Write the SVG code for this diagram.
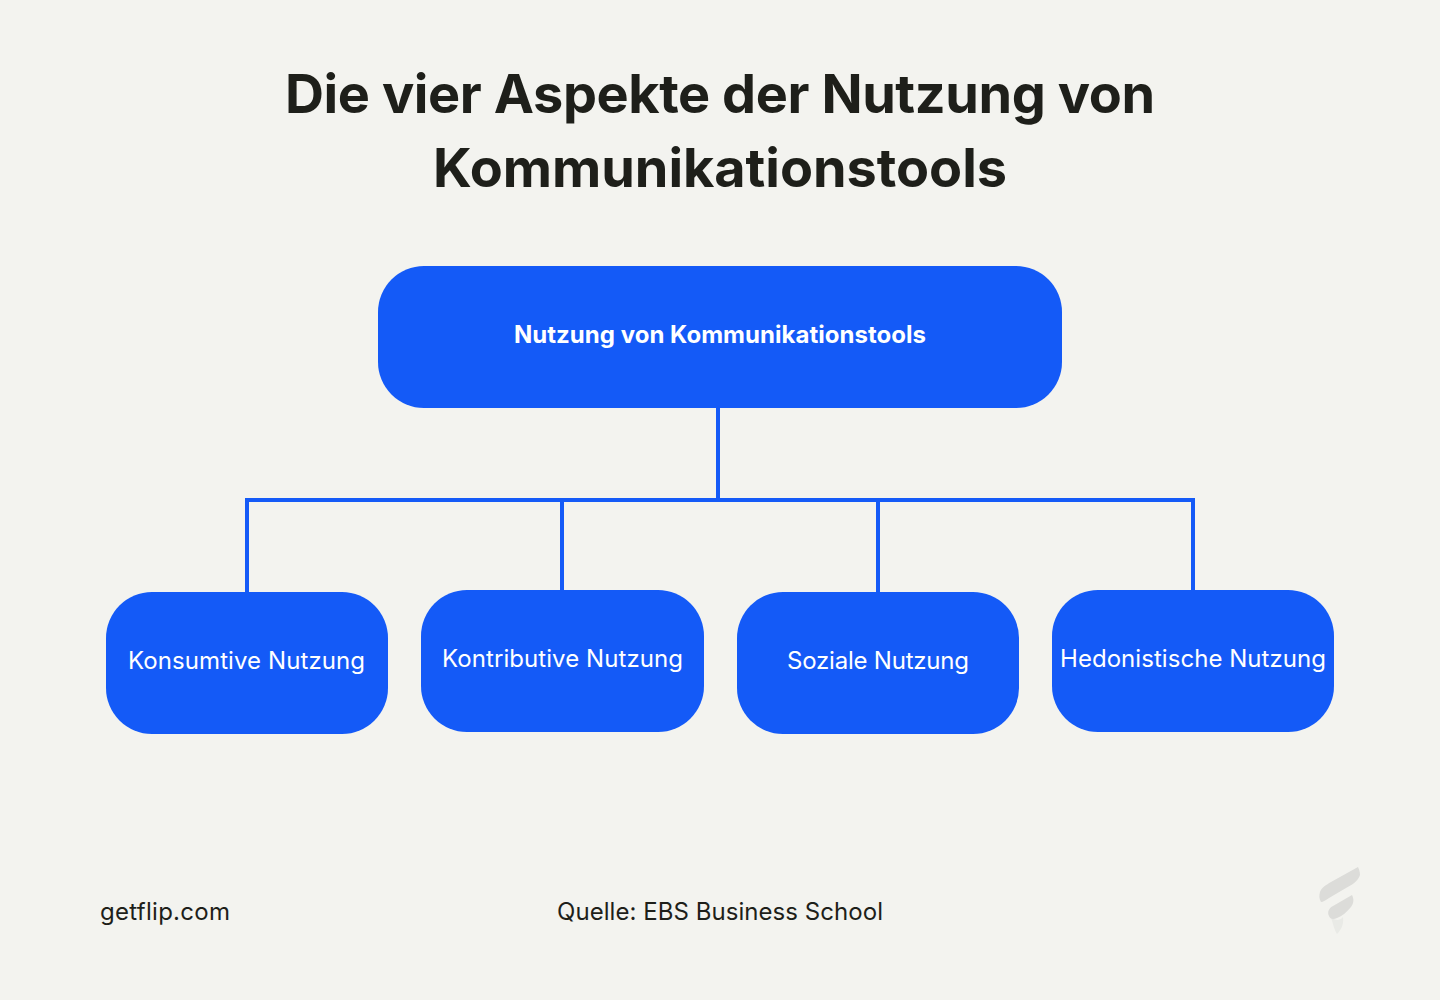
<svg xmlns="http://www.w3.org/2000/svg" width="1440" height="1000" viewBox="0 0 1440 1000">
<style>
text{font-family:"Inter","Liberation Sans",sans-serif;text-anchor:middle}
.t{font-size:54px;font-weight:700;fill:#1e1f1a}
.n{fill:#145af7}
.l{font-size:24px;fill:#fff}
.f{font-size:24px;fill:#1e1f1a}
.c{fill:none;stroke:#145af7;stroke-width:4}
</style>
<rect width="1440" height="1000" fill="#f3f3ef"/>
<text class="t" x="720" y="113" textLength="870">Die vier Aspekte der Nutzung von</text>
<text class="t" x="720" y="187" textLength="574">Kommunikationstools</text>
<g id="connectors">
<path class="c" d="M718 408V500M247 592V500H1193V590M562 500V590M878 500V592"/>
</g>
<g id="root"><rect class="n" x="378" y="266" width="684" height="142" rx="46"/><text class="l" x="720" y="343" font-weight="700" textLength="412">Nutzung von Kommunikationstools</text></g>
<g id="n1"><rect class="n" x="106" y="592" width="282" height="142" rx="46"/><text class="l" x="246.500" y="669" textLength="237">Konsumtive Nutzung</text></g>
<g id="n2"><rect class="n" x="421" y="590" width="283" height="142" rx="46"/><text class="l" x="562.500" y="667" textLength="241">Kontributive Nutzung</text></g>
<g id="n3"><rect class="n" x="737" y="592" width="282" height="142" rx="46"/><text class="l" x="878" y="669" textLength="182">Soziale Nutzung</text></g>
<g id="n4"><rect class="n" x="1052" y="590" width="282" height="142" rx="46"/><text class="l" x="1193" y="667" textLength="266">Hedonistische Nutzung</text></g>
<text class="f" x="165" y="920" textLength="130">getflip.com</text>
<text class="f" x="720" y="920" textLength="326">Quelle: EBS Business School</text>
<g id="logo">
<path fill="#e9eae6" d="M1331 917C1333 925 1335 931 1337 934C1341 930 1344 925 1343 917C1340 921 1335 921 1331 917Z"/>
<path fill="#dcdcd9" d="M1358 867C1359 869 1360 872 1360 875C1358 881 1352 885 1346 888L1329 898C1326 900 1323 902 1321 902C1319 899 1319 895 1320 892C1322 887 1326 885 1331 882Z"/>
<path fill="#dcdcd9" d="M1352 895C1354 899 1354 903 1351 907C1347 912 1342 916 1337 918C1333 920 1330 919 1329 916C1327 912 1329 908 1333 906Z"/>
</g>
</svg>
